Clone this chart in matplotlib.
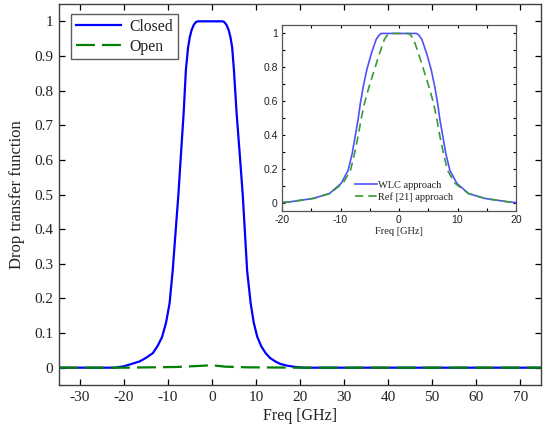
import matplotlib
matplotlib.use("Agg")
import matplotlib.pyplot as plt
from matplotlib.ticker import MultipleLocator

plt.rcParams["axes.unicode_minus"] = False

# main plot data
x_closed = [-34.7, -22, -20, -18.7, -16.4, -15, -13.4, -12.3, -11.3, -10.4, -9.6, -8.9, -8.25, -7.6,
            -7.0, -6.4, -5.9, -5.4, -5.0, -4.6, -4.1, -3.6, -3.2,
            2.4, 2.8, 3.3, 3.8, 4.2, 4.6, 5.0, 5.6, 6.3, 7.0, 7.5,
            8.0, 8.8, 9.5, 10.3, 11.2, 12.2, 13.2, 14.4, 15.5, 17.0, 19.0, 21.0, 74.7]
y_closed = [0, 0, 0.004, 0.009, 0.018, 0.028, 0.042, 0.063, 0.089, 0.13, 0.186, 0.28, 0.39, 0.5,
            0.62, 0.737, 0.86, 0.925, 0.955, 0.975, 0.99, 0.998, 1.0,
            1.0, 0.998, 0.99, 0.975, 0.955, 0.925, 0.86, 0.737, 0.62, 0.5, 0.39,
            0.28, 0.186, 0.13, 0.089, 0.062, 0.042, 0.028, 0.018, 0.011, 0.006, 0.002, 0, 0]
x_open = [-34.7, -20, -8, -3, 0, 3, 8, 20, 74.7]
y_open = [0, 0, 0.002, 0.005, 0.007, 0.003, 0.001, 0, 0]

# inset data
x_wlc = [-20, -18.7, -14.7, -11.9, -9.9, -8.7, -8.0, -7.5, -7.0, -6.6, -6.1, -5.5, -4.7, -3.9, -3.4, -3.0,
         3.0, 3.4, 3.9, 4.7, 5.5, 6.1, 6.6, 7.0, 7.5, 8.0, 8.7, 9.9, 11.9, 14.7, 18.7, 20]
y_wlc = [0, 0.004, 0.024, 0.053, 0.113, 0.19, 0.29, 0.39, 0.489, 0.588, 0.687, 0.786, 0.885, 0.965, 0.99, 1.0,
         1.0, 0.99, 0.965, 0.885, 0.786, 0.687, 0.588, 0.489, 0.39, 0.29, 0.19, 0.113, 0.053, 0.024, 0.004, 0]
x_ref = [-20, -18.7, -14.7, -11.9, -9.6, -8.3, -7.6, -7.0, -6.5, -5.9, -5.1, -4.2, -3.3, -2.5, -2.0, -1.6,
         1.6, 2.0, 2.5, 3.3, 4.2, 5.1, 5.9, 6.5, 7.0, 7.6, 8.3, 9.6, 11.9, 14.7, 18.7, 20]
y_ref = y_wlc

serif = "Liberation Serif"
sans = "Liberation Sans"
txt = "#222222"

fig = plt.figure(figsize=(5.44, 4.30), dpi=100)
ax = fig.add_axes([59/544, 45/430, 482/544, 381/430])

ax.plot(x_closed, y_closed, color="#0000ff", lw=1.6, label="Closed")
ax.plot(x_open, y_open, color="#007f00", lw=1.6, linestyle=(0, (8.5, 3.2)), label="Open")

ax.set_xlim(-34.7, 74.7)
ax.set_ylim(-0.05, 1.05)
ax.xaxis.set_major_locator(MultipleLocator(10))
ax.set_yticks([0, 0.1, 0.2, 0.3, 0.4, 0.5, 0.6, 0.7, 0.8, 0.9, 1])
ax.set_yticklabels(["0", "0.1", "0.2", "0.3", "0.4", "0.5", "0.6", "0.7", "0.8", "0.9", "1"])
ax.tick_params(direction="in", top=True, right=True, length=4, width=0.9,
               labelsize=11, labelcolor=txt, pad=4)
for lab in ax.get_xticklabels() + ax.get_yticklabels():
    lab.set_family(serif)
for s in ax.spines.values():
    s.set_color("#404040")
    s.set_linewidth(1.0)

ax.set_xlabel("Freq [GHz]", family=serif, fontsize=11.5, color=txt, labelpad=3)
ax.set_ylabel("Drop transfer function", family=serif, fontsize=12, color=txt, labelpad=7)

leg = ax.legend(loc="upper left", bbox_to_anchor=(12/482, 1 - 10/381), borderaxespad=0,
                prop={"family": serif, "size": 11.3}, fancybox=False, frameon=True,
                handlelength=2.9, handletextpad=0.5, labelspacing=0.25, borderpad=0.3)
leg.get_frame().set_edgecolor("#333333")
leg.get_frame().set_linewidth(1.0)
for t in leg.get_texts():
    t.set_color(txt)

# inset
ins = fig.add_axes([282/544, (430-211)/430, 234/544, 186/430])
ins.set_facecolor("white")
ins.plot(x_wlc, y_wlc, color="#5050ff", lw=1.2, label="WLC approach")
ins.plot(x_ref, y_ref, color="#3a9a3a", lw=1.2, linestyle=(0, (5, 3)), label="Ref [21] approach")
ins.set_xlim(-20, 20)
ins.set_ylim(-0.05, 1.05)
ins.set_xticks([-20, -10, 0, 10, 20])
ins.set_yticks([0, 0.2, 0.4, 0.6, 0.8, 1])
ins.set_yticklabels(["0", "0.2", "0.4", "0.6", "0.8", "1"])
ins.xaxis.set_minor_locator(MultipleLocator(5))
ins.yaxis.set_minor_locator(MultipleLocator(0.1))
ins.tick_params(which="both", direction="in", top=True, right=True, length=2.5, width=0.8,
                labelsize=7.5, labelcolor=txt, pad=3)
for lab in ins.get_xticklabels() + ins.get_yticklabels():
    lab.set_family(sans)
for s in ins.spines.values():
    s.set_color("#555555")
    s.set_linewidth(0.9)
ins.set_xlabel("Freq [GHz]", family=serif, fontsize=7.5, color=txt, labelpad=1)
il = ins.legend(loc="lower left", bbox_to_anchor=(0.31, 0.05), borderaxespad=0, borderpad=0,
                frameon=False, prop={"family": serif, "size": 7.5},
                handlelength=2.2, handletextpad=0.1, labelspacing=0.2)
for t in il.get_texts():
    t.set_color(txt)

fig.savefig("out.png", dpi=100)
